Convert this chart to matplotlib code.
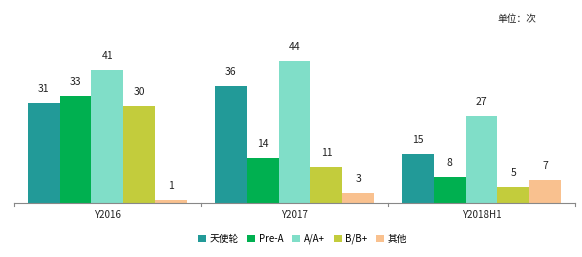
import numpy as np
import matplotlib
matplotlib.use('Agg')
import matplotlib.pyplot as plt

plt.rcParams['font.family'] = ['Noto Sans CJK SC', 'DejaVu Sans']

years = ['Y2016', 'Y2017', 'Y2018H1']
series = ['天使轮', 'Pre-A', 'A/A+', 'B/B+', '其他']
values = [
    [31, 36, 15],
    [33, 14, 8],
    [41, 44, 27],
    [30, 11, 5],
    [1, 3, 7],
]
colors = ['#229a98', '#00b050', '#80dec8', '#c3cc3c', '#f9c18f']

fig = plt.figure(figsize=(5.82, 2.57), dpi=100)
ax = fig.add_axes([0.024, 0.21, 0.964, 0.63])

x = np.arange(len(years))
w = 0.171
for i, (name, vals) in enumerate(zip(series, values)):
    pos = x - 2 * w + i * w
    ax.bar(pos, vals, width=w, color=colors[i], label=name, zorder=2)
    for p, v in zip(pos, vals):
        ax.annotate(str(v), (p, v), xytext=(0, 6.5), textcoords='offset points',
                    ha='center', va='bottom', fontsize=7.5, color='#222222')

ax.set_xlim(-0.5, len(years) - 0.5)
ax.set_ylim(0, 50)
ax.set_yticks([])
for s in ['top', 'right', 'left']:
    ax.spines[s].set_visible(False)
ax.spines['bottom'].set_color('#888888')
ax.set_xticks(x)
ax.set_xticklabels(years, fontsize=7, color='#222222')
ax.tick_params(axis='x', length=0, pad=5)
for b in np.arange(len(years) + 1) - 0.5:
    ax.plot([b, b], [0, -1.0], color='#888888', lw=0.8, clip_on=False)

fig.legend(loc='center', bbox_to_anchor=(0.52, 0.07), ncol=5, frameon=False,
           fontsize=7, handlelength=0.8, handleheight=0.8, handletextpad=0.4,
           columnspacing=0.9)
fig.text(0.855, 0.915, '单位：次', fontsize=7, color='#222222')

fig.savefig('out.png', dpi=100)
